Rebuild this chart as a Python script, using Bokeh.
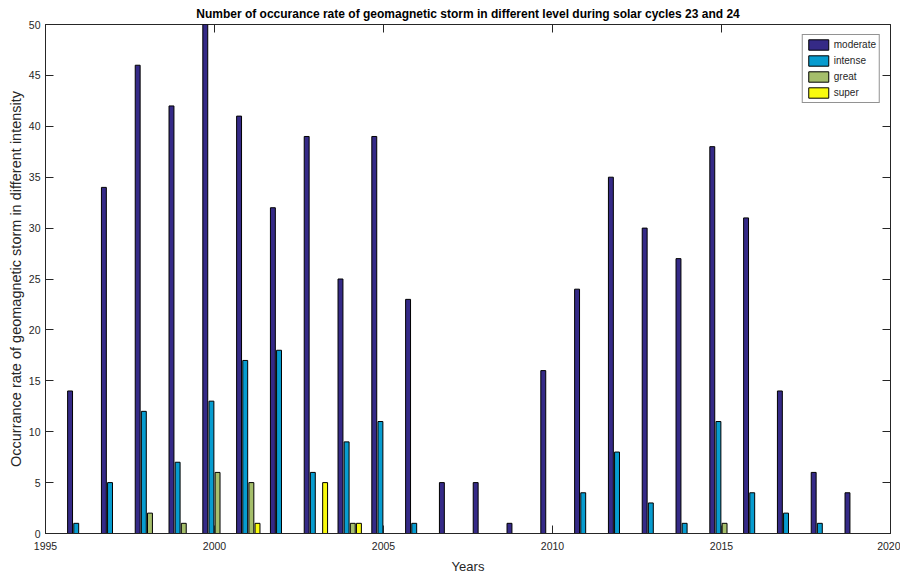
from bokeh.plotting import figure
from bokeh.models import ColumnDataSource, Range1d, LinearAxis, FixedTicker, Legend, LegendItem
from bokeh.transform import dodge
from bokeh.embed import file_html
from bokeh.resources import INLINE

years = list(range(1996, 2020))
moderate = [14, 34, 46, 42, 50, 41, 32, 39, 25, 39, 23, 5, 5, 1, 16, 24, 35, 30, 27, 38, 31, 14, 6, 4]
intense = [1, 5, 12, 7, 13, 17, 18, 6, 9, 11, 1, 0, 0, 0, 0, 4, 8, 3, 1, 11, 4, 2, 1, 0]
great = [0, 0, 2, 1, 6, 5, 0, 0, 1, 0, 0, 0, 0, 0, 0, 0, 0, 0, 0, 1, 0, 0, 0, 0]
superr = [0, 0, 0, 0, 0, 1, 0, 5, 1, 0, 0, 0, 0, 0, 0, 0, 0, 0, 0, 0, 0, 0, 0, 0]
series_names = ["moderate", "intense", "great", "super"]
colors = ["#352A87", "#079CCF", "#A5BE6B", "#F9FB0E"]
x_ticks = [1995, 2000, 2005, 2010, 2015, 2020]
y_ticks = list(range(0, 51, 5))

src = ColumnDataSource(dict(year=years, moderate=moderate, intense=intense,
                            great=great, super=superr))

FONT = "Liberation Sans"
TXT = "#262626"

p = figure(width=900, height=576, output_backend="svg", toolbar_location=None,
           x_range=Range1d(1995, 2020), y_range=Range1d(0, 50),
           min_border_left=45, min_border_right=10, min_border_top=24, min_border_bottom=41,
           title="Number of occurance rate of geomagnetic storm in different level during solar cycles 23 and 24")
p.title.text_font = FONT
p.title.text_font_size = "12px"
p.title.text_font_style = "bold"
p.title.align = "center"
p.title.text_color = "black"
p.title.offset = 0
p.title.standoff = 8

p.xgrid.visible = False
p.ygrid.visible = False
p.outline_line_color = TXT
p.outline_line_width = 1
p.background_fill_color = "white"
p.border_fill_color = "white"

group_w = 4 / (4 + 1.5)
bar_w = group_w / 4 * 0.8
items = []
for i, (name, col) in enumerate(zip(series_names, colors)):
    off = (i - 1.5) * group_w / 4
    r = p.vbar(x=dodge("year", off, range=p.x_range), top=name, width=bar_w, source=src,
               fill_color=col, line_color="black", line_width=1)
    items.append(LegendItem(label=name, renderers=[r]))

for ax in (p.xaxis[0], p.yaxis[0]):
    ax.major_label_text_font = FONT
    ax.major_label_text_font_size = "10.5px"
    ax.major_label_text_color = TXT
    ax.axis_label_text_font = FONT
    ax.axis_label_text_font_style = "normal"
    ax.axis_label_text_color = TXT
    ax.axis_line_color = TXT
    ax.major_tick_line_color = TXT
    ax.major_tick_in = 8
    ax.major_tick_out = 0
    ax.minor_tick_line_color = None

p.xaxis[0].ticker = FixedTicker(ticks=x_ticks)
p.yaxis[0].ticker = FixedTicker(ticks=y_ticks)
p.xaxis[0].axis_label = "Years"
p.yaxis[0].axis_label = "Occurrance rate of geomagnetic storm in different intensity"
p.xaxis[0].axis_label_text_font_size = "13px"
p.yaxis[0].axis_label_text_font_size = "14.5px"
p.xaxis[0].major_label_standoff = 8
p.xaxis[0].axis_label_standoff = 6
p.yaxis[0].major_label_standoff = 5
p.yaxis[0].axis_label_standoff = 2

top_ax = LinearAxis(ticker=FixedTicker(ticks=x_ticks), major_label_text_font_size="1px",
                    major_label_text_color=None,
                    major_label_standoff=0, major_tick_in=8, major_tick_out=0,
                    axis_line_color=None, major_tick_line_color=TXT, minor_tick_line_color=None)
right_ax = LinearAxis(ticker=FixedTicker(ticks=y_ticks), major_label_text_font_size="1px",
                      major_label_text_color=None,
                      major_label_standoff=0, major_tick_in=8, major_tick_out=0,
                      axis_line_color=None, major_tick_line_color=TXT, minor_tick_line_color=None)
p.add_layout(top_ax, "above")
p.add_layout(right_ax, "right")

legend = Legend(items=items, location="top_right", orientation="vertical")
legend.label_text_font = FONT
legend.label_text_font_size = "10px"
legend.label_text_color = TXT
legend.glyph_width = 25
legend.glyph_height = 13
legend.label_height = 13
legend.label_standoff = 3
legend.spacing = 3
legend.padding = 3
legend.margin = 10
legend.border_line_color = TXT
legend.border_line_width = 1
legend.background_fill_alpha = 1
p.add_layout(legend)

open("out.html", "w").write(file_html(p, INLINE))
